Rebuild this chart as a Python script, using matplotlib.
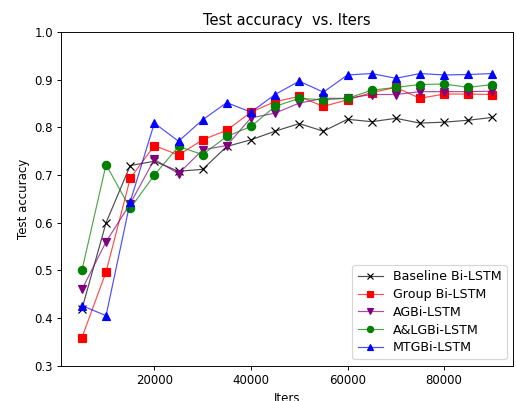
import numpy as np
import matplotlib
matplotlib.use("Agg")
import matplotlib.pyplot as plt
from matplotlib.colors import to_rgba

################################################################################
# data
iters = [5000, 10000, 15000, 20000, 25000, 30000, 35000, 40000, 45000,
         50000, 55000, 60000, 65000, 70000, 75000, 80000, 85000, 90000]

baseline = [0.419, 0.600, 0.720, 0.729, 0.708, 0.712, 0.760, 0.774, 0.792,
            0.808, 0.792, 0.817, 0.812, 0.819, 0.809, 0.811, 0.815, 0.821]
group = [0.359, 0.497, 0.693, 0.762, 0.742, 0.774, 0.794, 0.832, 0.854,
         0.865, 0.844, 0.858, 0.873, 0.884, 0.861, 0.870, 0.870, 0.869]
agbi = [0.460, 0.560, 0.640, 0.733, 0.703, 0.753, 0.762, 0.820, 0.830,
        0.851, 0.861, 0.861, 0.869, 0.869, 0.875, 0.875, 0.875, 0.876]
alg = [0.500, 0.722, 0.630, 0.700, 0.760, 0.743, 0.781, 0.802, 0.844,
       0.861, 0.858, 0.861, 0.878, 0.884, 0.890, 0.891, 0.884, 0.890]
mtg = [0.426, 0.405, 0.644, 0.809, 0.771, 0.816, 0.852, 0.832, 0.869,
       0.897, 0.874, 0.910, 0.913, 0.903, 0.913, 0.910, 0.911, 0.913]

labels = ["Baseline Bi-LSTM", "Group Bi-LSTM", "AGBi-LSTM",
          "A&LGBi-LSTM", "MTGBi-LSTM"]
################################################################################

DPI = 85
fig = plt.figure(figsize=(516 / DPI, 401 / DPI), dpi=DPI)
ax = fig.add_axes([0.119, 0.088, 0.875, 0.832])

series = [(baseline, 'x', 'black'), (group, 's', 'red'), (agbi, 'v', 'purple'),
          (alg, 'o', 'green'), (mtg, '^', 'blue')]
for (vals, mk, col), lab in zip(series, labels):
    ax.plot(iters, vals, marker=mk, color=to_rgba(col, 0.7), linewidth=1,
            markersize=7, markerfacecolor=col, markeredgecolor=col, label=lab)

ax.set_ylim(0.3, 1.0)
ax.set_xticks([20000, 40000, 60000, 80000])
ax.set_title("Test accuracy  vs. Iters", fontsize=12.4)
ax.set_xlabel("Iters")
ax.set_ylabel("Test accuracy")
ax.legend(loc='lower right', markerscale=0.75, fontsize=10.7, labelspacing=0.38)

plt.savefig("out.png", dpi=DPI)
